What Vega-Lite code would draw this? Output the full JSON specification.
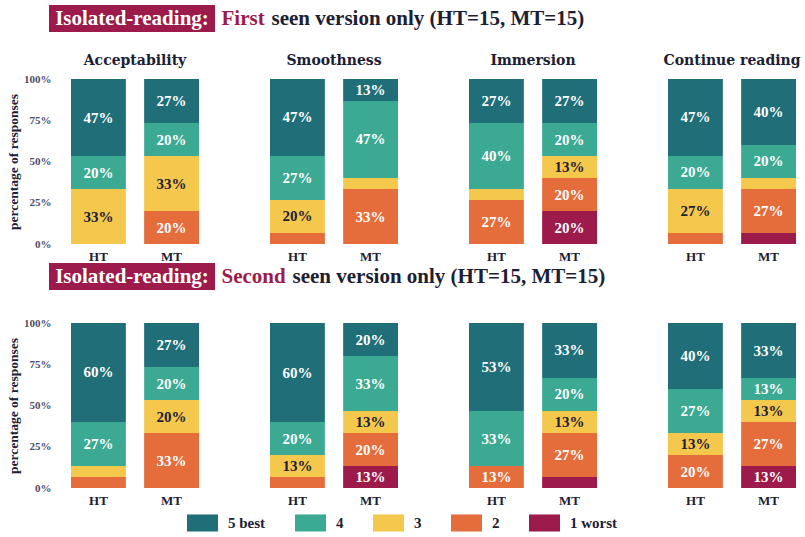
{
  "$schema": "https://vega.github.io/schema/vega-lite/v6.json",
  "padding": {"left": 4, "top": 5, "right": 6, "bottom": 2},
  "config": {
    "font": "Liberation Serif",
    "view": {"stroke": null},
    "legend": {
      "orient": "bottom",
      "layout": {"bottom": {"anchor": "middle"}},
      "title": null,
      "offset": 0,
      "symbolType": "M-1,-0.55H1V0.55H-1Z",
      "symbolSize": 961,
      "symbolStrokeWidth": 0,
      "symbolOpacity": 1,
      "labelFont": "Liberation Serif",
      "labelFontSize": 15,
      "labelFontWeight": "bold",
      "labelColor": "#1c2033",
      "labelOffset": 10,
      "columnPadding": 29
    }
  },
  "datasets": {
    "d": [
      {"row": "First", "aspect": "Acceptability", "version": "HT", "rating": "5 best", "r": 5, "pct": 0.4667},
      {"row": "First", "aspect": "Acceptability", "version": "HT", "rating": "4", "r": 4, "pct": 0.2},
      {"row": "First", "aspect": "Acceptability", "version": "HT", "rating": "3", "r": 3, "pct": 0.3333},
      {"row": "First", "aspect": "Acceptability", "version": "MT", "rating": "5 best", "r": 5, "pct": 0.2667},
      {"row": "First", "aspect": "Acceptability", "version": "MT", "rating": "4", "r": 4, "pct": 0.2},
      {"row": "First", "aspect": "Acceptability", "version": "MT", "rating": "3", "r": 3, "pct": 0.3333},
      {"row": "First", "aspect": "Acceptability", "version": "MT", "rating": "2", "r": 2, "pct": 0.2},
      {"row": "First", "aspect": "Smoothness", "version": "HT", "rating": "5 best", "r": 5, "pct": 0.4667},
      {"row": "First", "aspect": "Smoothness", "version": "HT", "rating": "4", "r": 4, "pct": 0.2667},
      {"row": "First", "aspect": "Smoothness", "version": "HT", "rating": "3", "r": 3, "pct": 0.2},
      {"row": "First", "aspect": "Smoothness", "version": "HT", "rating": "2", "r": 2, "pct": 0.0667},
      {"row": "First", "aspect": "Smoothness", "version": "MT", "rating": "5 best", "r": 5, "pct": 0.1333},
      {"row": "First", "aspect": "Smoothness", "version": "MT", "rating": "4", "r": 4, "pct": 0.4667},
      {"row": "First", "aspect": "Smoothness", "version": "MT", "rating": "3", "r": 3, "pct": 0.0667},
      {"row": "First", "aspect": "Smoothness", "version": "MT", "rating": "2", "r": 2, "pct": 0.3333},
      {"row": "First", "aspect": "Immersion", "version": "HT", "rating": "5 best", "r": 5, "pct": 0.2667},
      {"row": "First", "aspect": "Immersion", "version": "HT", "rating": "4", "r": 4, "pct": 0.4},
      {"row": "First", "aspect": "Immersion", "version": "HT", "rating": "3", "r": 3, "pct": 0.0667},
      {"row": "First", "aspect": "Immersion", "version": "HT", "rating": "2", "r": 2, "pct": 0.2667},
      {"row": "First", "aspect": "Immersion", "version": "MT", "rating": "5 best", "r": 5, "pct": 0.2667},
      {"row": "First", "aspect": "Immersion", "version": "MT", "rating": "4", "r": 4, "pct": 0.2},
      {"row": "First", "aspect": "Immersion", "version": "MT", "rating": "3", "r": 3, "pct": 0.1333},
      {"row": "First", "aspect": "Immersion", "version": "MT", "rating": "2", "r": 2, "pct": 0.2},
      {"row": "First", "aspect": "Immersion", "version": "MT", "rating": "1 worst", "r": 1, "pct": 0.2},
      {"row": "First", "aspect": "Continue reading", "version": "HT", "rating": "5 best", "r": 5, "pct": 0.4667},
      {"row": "First", "aspect": "Continue reading", "version": "HT", "rating": "4", "r": 4, "pct": 0.2},
      {"row": "First", "aspect": "Continue reading", "version": "HT", "rating": "3", "r": 3, "pct": 0.2667},
      {"row": "First", "aspect": "Continue reading", "version": "HT", "rating": "2", "r": 2, "pct": 0.0667},
      {"row": "First", "aspect": "Continue reading", "version": "MT", "rating": "5 best", "r": 5, "pct": 0.4},
      {"row": "First", "aspect": "Continue reading", "version": "MT", "rating": "4", "r": 4, "pct": 0.2},
      {"row": "First", "aspect": "Continue reading", "version": "MT", "rating": "3", "r": 3, "pct": 0.0667},
      {"row": "First", "aspect": "Continue reading", "version": "MT", "rating": "2", "r": 2, "pct": 0.2667},
      {"row": "First", "aspect": "Continue reading", "version": "MT", "rating": "1 worst", "r": 1, "pct": 0.0667},
      {"row": "Second", "aspect": "Acceptability", "version": "HT", "rating": "5 best", "r": 5, "pct": 0.6},
      {"row": "Second", "aspect": "Acceptability", "version": "HT", "rating": "4", "r": 4, "pct": 0.2667},
      {"row": "Second", "aspect": "Acceptability", "version": "HT", "rating": "3", "r": 3, "pct": 0.0667},
      {"row": "Second", "aspect": "Acceptability", "version": "HT", "rating": "2", "r": 2, "pct": 0.0667},
      {"row": "Second", "aspect": "Acceptability", "version": "MT", "rating": "5 best", "r": 5, "pct": 0.2667},
      {"row": "Second", "aspect": "Acceptability", "version": "MT", "rating": "4", "r": 4, "pct": 0.2},
      {"row": "Second", "aspect": "Acceptability", "version": "MT", "rating": "3", "r": 3, "pct": 0.2},
      {"row": "Second", "aspect": "Acceptability", "version": "MT", "rating": "2", "r": 2, "pct": 0.3333},
      {"row": "Second", "aspect": "Smoothness", "version": "HT", "rating": "5 best", "r": 5, "pct": 0.6},
      {"row": "Second", "aspect": "Smoothness", "version": "HT", "rating": "4", "r": 4, "pct": 0.2},
      {"row": "Second", "aspect": "Smoothness", "version": "HT", "rating": "3", "r": 3, "pct": 0.1333},
      {"row": "Second", "aspect": "Smoothness", "version": "HT", "rating": "2", "r": 2, "pct": 0.0667},
      {"row": "Second", "aspect": "Smoothness", "version": "MT", "rating": "5 best", "r": 5, "pct": 0.2},
      {"row": "Second", "aspect": "Smoothness", "version": "MT", "rating": "4", "r": 4, "pct": 0.3333},
      {"row": "Second", "aspect": "Smoothness", "version": "MT", "rating": "3", "r": 3, "pct": 0.1333},
      {"row": "Second", "aspect": "Smoothness", "version": "MT", "rating": "2", "r": 2, "pct": 0.2},
      {"row": "Second", "aspect": "Smoothness", "version": "MT", "rating": "1 worst", "r": 1, "pct": 0.1333},
      {"row": "Second", "aspect": "Immersion", "version": "HT", "rating": "5 best", "r": 5, "pct": 0.5333},
      {"row": "Second", "aspect": "Immersion", "version": "HT", "rating": "4", "r": 4, "pct": 0.3333},
      {"row": "Second", "aspect": "Immersion", "version": "HT", "rating": "2", "r": 2, "pct": 0.1333},
      {"row": "Second", "aspect": "Immersion", "version": "MT", "rating": "5 best", "r": 5, "pct": 0.3333},
      {"row": "Second", "aspect": "Immersion", "version": "MT", "rating": "4", "r": 4, "pct": 0.2},
      {"row": "Second", "aspect": "Immersion", "version": "MT", "rating": "3", "r": 3, "pct": 0.1333},
      {"row": "Second", "aspect": "Immersion", "version": "MT", "rating": "2", "r": 2, "pct": 0.2667},
      {"row": "Second", "aspect": "Immersion", "version": "MT", "rating": "1 worst", "r": 1, "pct": 0.0667},
      {"row": "Second", "aspect": "Continue reading", "version": "HT", "rating": "5 best", "r": 5, "pct": 0.4},
      {"row": "Second", "aspect": "Continue reading", "version": "HT", "rating": "4", "r": 4, "pct": 0.2667},
      {"row": "Second", "aspect": "Continue reading", "version": "HT", "rating": "3", "r": 3, "pct": 0.1333},
      {"row": "Second", "aspect": "Continue reading", "version": "HT", "rating": "2", "r": 2, "pct": 0.2},
      {"row": "Second", "aspect": "Continue reading", "version": "MT", "rating": "5 best", "r": 5, "pct": 0.3333},
      {"row": "Second", "aspect": "Continue reading", "version": "MT", "rating": "4", "r": 4, "pct": 0.1333},
      {"row": "Second", "aspect": "Continue reading", "version": "MT", "rating": "3", "r": 3, "pct": 0.1333},
      {"row": "Second", "aspect": "Continue reading", "version": "MT", "rating": "2", "r": 2, "pct": 0.2667},
      {"row": "Second", "aspect": "Continue reading", "version": "MT", "rating": "1 worst", "r": 1, "pct": 0.1333}
    ],
    "one": [{"k": 1}]
  },
  "data": {"name": "d"},
  "spacing": 0,
  "vconcat": [
    {
      "spacing": 22,
      "vconcat": [
        {
          "spacing": 6,
          "hconcat": [
            {"width": 39, "height": 27, "data": {"name": "one"}, "mark": {"type": "text", "text": ""}, "encoding": {}},
            {"width": 166, "height": 27, "data": {"name": "one"}, "layer": [
              {"mark": {"type": "rect", "color": "#9c1b4a"}, "encoding": {}},
              {"mark": {"type": "text", "text": "Isolated-reading:", "color": "white", "fontSize": 21, "fontWeight": "bold", "baseline": "middle"}, "encoding": {}}
            ]},
            {"width": 1, "height": 27, "data": {"name": "one"}, "mark": {"type": "text", "text": "First", "align": "left", "color": "#9c1b4a", "fontSize": 21, "fontWeight": "bold", "baseline": "middle"}, "encoding": {}},
            {"width": 1, "height": 27, "data": {"name": "one"}, "mark": {"type": "text", "text": "seen version only (HT=15, MT=15)", "align": "left", "color": "#1c2033", "fontSize": 21, "fontWeight": "bold", "baseline": "middle"}, "encoding": {}}
          ]
        },
        {
          "spacing": 0,
          "hconcat": [
            {"width": 2, "height": 10, "data": {"name": "one"}, "mark": {"type": "text", "text": ""}, "encoding": {}},
            {
              "transform": [{"filter": "datum.row === 'First'"}],
              "facet": {"column": {"field": "aspect", "type": "nominal", "sort": ["Acceptability", "Smoothness", "Immersion", "Continue reading"], "header": {"title": null, "labelFont": "DejaVu Serif", "labelFontSize": 14, "labelFontWeight": "bold", "labelColor": "#1c2033", "labelPadding": 10}}},
              "spacing": 71,
              "spec": {
                "width": 128,
                "height": 165,
                "encoding": {
                  "x": {"field": "version", "type": "nominal", "scale": {"paddingInner": 0.25, "paddingOuter": 0}, "axis": {"title": null, "ticks": false, "domain": false, "labelAngle": 0, "labelFontSize": 13, "labelFontWeight": "bold", "labelColor": "#1c2033", "labelPadding": 3}},
                  "order": {"field": "r", "type": "quantitative", "sort": "ascending"}
                },
                "layer": [
                  {
                    "mark": {"type": "bar"},
                    "encoding": {
                      "y": {"field": "pct", "type": "quantitative", "stack": "zero", "scale": {"domain": [0, 1]}, "axis": {"title": "percentage of responses", "values": [0, 0.25, 0.5, 0.75, 1], "format": ".0%", "ticks": false, "domain": false, "grid": false, "labelPadding": 20, "labelFontSize": 11, "labelFontWeight": "bold", "labelColor": "#4b4e66", "titleFontSize": 13.5, "titleFontWeight": "bold", "titleColor": "#1c2033", "titlePadding": 3}},
                      "color": {"field": "rating", "type": "nominal", "scale": {"domain": ["5 best", "4", "3", "2", "1 worst"], "range": ["#1f6e78", "#3ca993", "#f4c74d", "#e46d3b", "#9c1b4a"]}}
                    }
                  },
                  {
                    "mark": {"type": "text", "fontSize": 15, "fontWeight": "bold", "baseline": "middle"},
                    "encoding": {
                      "y": {"field": "pct", "type": "quantitative", "stack": "zero", "bandPosition": 0.5},
                      "detail": {"field": "rating"},
                      "text": {"condition": {"test": "datum.pct < 0.1", "value": ""}, "field": "pct", "type": "quantitative", "format": ".0%"},
                      "color": {"condition": {"test": "datum.r === 3", "value": "#1c2033"}, "value": "white"}
                    }
                  }
                ]
              }
            }
          ]
        }
      ]
    },
    {
      "spacing": 27,
      "vconcat": [
        {
          "spacing": 6,
          "hconcat": [
            {"width": 39, "height": 27, "data": {"name": "one"}, "mark": {"type": "text", "text": ""}, "encoding": {}},
            {"width": 166, "height": 27, "data": {"name": "one"}, "layer": [
              {"mark": {"type": "rect", "color": "#9c1b4a"}, "encoding": {}},
              {"mark": {"type": "text", "text": "Isolated-reading:", "color": "white", "fontSize": 21, "fontWeight": "bold", "baseline": "middle"}, "encoding": {}}
            ]},
            {"width": 1, "height": 27, "data": {"name": "one"}, "mark": {"type": "text", "text": "Second", "align": "left", "color": "#9c1b4a", "fontSize": 21, "fontWeight": "bold", "baseline": "middle"}, "encoding": {}},
            {"width": 1, "height": 27, "data": {"name": "one"}, "mark": {"type": "text", "text": "seen version only (HT=15, MT=15)", "align": "left", "color": "#1c2033", "fontSize": 21, "fontWeight": "bold", "baseline": "middle"}, "encoding": {}}
          ]
        },
        {
          "spacing": 0,
          "hconcat": [
            {"width": 2, "height": 10, "data": {"name": "one"}, "mark": {"type": "text", "text": ""}, "encoding": {}},
            {
              "transform": [{"filter": "datum.row === 'Second'"}],
              "facet": {"column": {"field": "aspect", "type": "nominal", "sort": ["Acceptability", "Smoothness", "Immersion", "Continue reading"], "header": null}},
              "spacing": 71,
              "spec": {
                "width": 128,
                "height": 165,
                "encoding": {
                  "x": {"field": "version", "type": "nominal", "scale": {"paddingInner": 0.25, "paddingOuter": 0}, "axis": {"title": null, "ticks": false, "domain": false, "labelAngle": 0, "labelFontSize": 13, "labelFontWeight": "bold", "labelColor": "#1c2033", "labelPadding": 3}},
                  "order": {"field": "r", "type": "quantitative", "sort": "ascending"}
                },
                "layer": [
                  {
                    "mark": {"type": "bar"},
                    "encoding": {
                      "y": {"field": "pct", "type": "quantitative", "stack": "zero", "scale": {"domain": [0, 1]}, "axis": {"title": "percentage of responses", "values": [0, 0.25, 0.5, 0.75, 1], "format": ".0%", "ticks": false, "domain": false, "grid": false, "labelPadding": 20, "labelFontSize": 11, "labelFontWeight": "bold", "labelColor": "#4b4e66", "titleFontSize": 13.5, "titleFontWeight": "bold", "titleColor": "#1c2033", "titlePadding": 3}},
                      "color": {"field": "rating", "type": "nominal", "scale": {"domain": ["5 best", "4", "3", "2", "1 worst"], "range": ["#1f6e78", "#3ca993", "#f4c74d", "#e46d3b", "#9c1b4a"]}}
                    }
                  },
                  {
                    "mark": {"type": "text", "fontSize": 15, "fontWeight": "bold", "baseline": "middle"},
                    "encoding": {
                      "y": {"field": "pct", "type": "quantitative", "stack": "zero", "bandPosition": 0.5},
                      "detail": {"field": "rating"},
                      "text": {"condition": {"test": "datum.pct < 0.1", "value": ""}, "field": "pct", "type": "quantitative", "format": ".0%"},
                      "color": {"condition": {"test": "datum.r === 3", "value": "#1c2033"}, "value": "white"}
                    }
                  }
                ]
              }
            }
          ]
        }
      ]
    }
  ]
}
